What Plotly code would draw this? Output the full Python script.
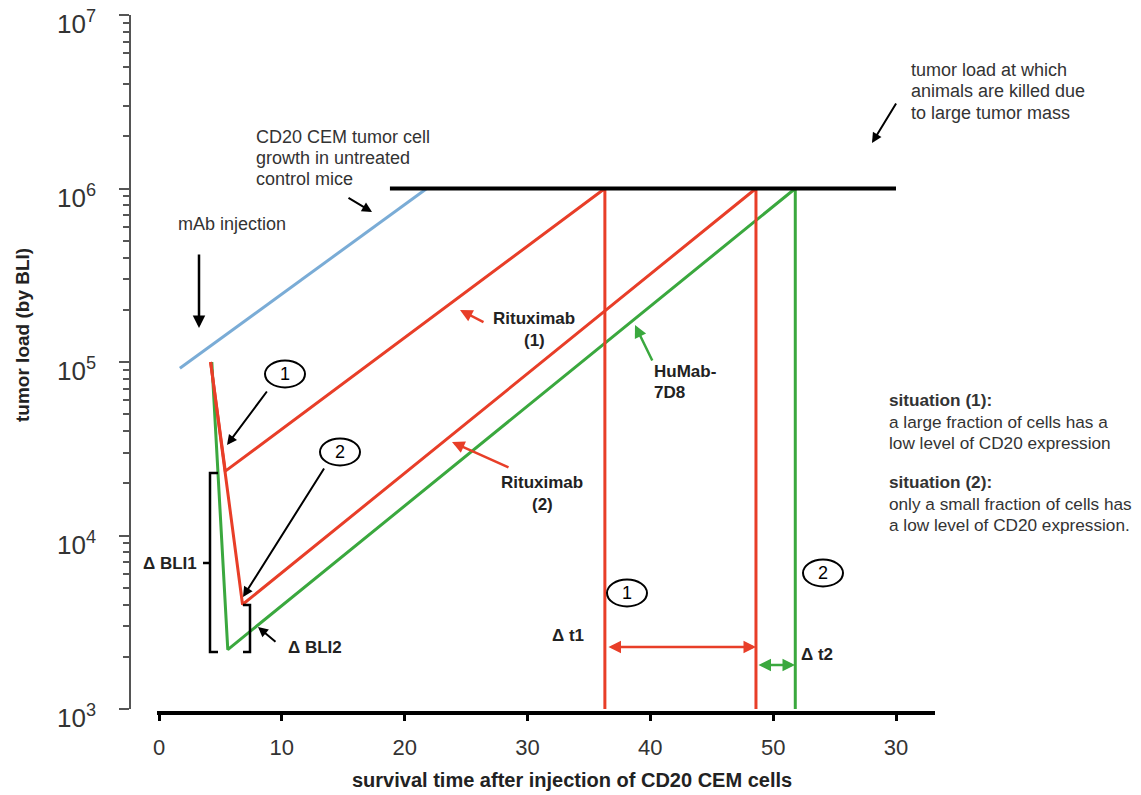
import plotly.graph_objects as go

W, H = 1141, 795

# ---------------- data ----------------
control_days = [1.7, 21.8]
control_load = [9.2e4, 1.0e6]

rituximab1_days = [4.2, 5.4, 36.3, 36.3]
rituximab1_load = [1.0e5, 2.35e4, 1.0e6, 1.0e3]

rituximab2_days = [4.2, 6.8, 48.6, 48.6]
rituximab2_load = [1.0e5, 4.0e3, 1.0e6, 1.0e3]

humab_days = [4.3, 5.6, 51.8, 51.8]
humab_load = [1.0e5, 2.2e3, 1.0e6, 1.0e3]

threshold_days = [18.8, 60.0]
threshold_load = [1.0e6, 1.0e6]

x_tickvals = [0, 10, 20, 30, 40, 50, 60]
x_ticktext = ["0", "10", "20", "30", "40", "50", "30"]
y_tickvals = [1e3, 1e4, 1e5, 1e6, 1e7]
y_ticktext = ["10<sup>3</sup>", "10<sup>4</sup>", "10<sup>5</sup>", "10<sup>6</sup>", "10<sup>7</sup>"]

# ---------------- style ----------------
RED = "rgb(232,62,40)"
GREEN = "rgb(58,168,62)"
BLUE = "rgb(122,172,214)"
TXT = "#333333"
FONT = "Liberation Sans, Arial, sans-serif"


def fx(px):
    return px / W


def fy(py):
    return 1 - py / H


fig = go.Figure()


def line(x, y, color, width):
    fig.add_trace(go.Scatter(x=x, y=y, mode="lines",
                             line=dict(color=color, width=width),
                             hoverinfo="skip", showlegend=False))


line(control_days, control_load, BLUE, 3)
line(humab_days, humab_load, GREEN, 3)
line(rituximab2_days, rituximab2_load, RED, 3)
line(rituximab1_days, rituximab1_load, RED, 3)
line(threshold_days, threshold_load, "black", 4)

annotations = []
shapes = []


def text(px, py, s, size=18, bold=False, xanchor="center", color=TXT, align="center", angle=0):
    annotations.append(dict(
        x=fx(px), y=fy(py), xref="paper", yref="paper",
        text=("<b>%s</b>" % s) if bold else s, showarrow=False,
        xanchor=xanchor, yanchor="middle", align=align, textangle=angle,
        font=dict(family=FONT, size=size, color=color)))


def block(px, py0, step, rows, **kw):
    for i, r in enumerate(rows):
        text(px, py0 + i * step, r, **kw)


def arrow(tx, ty, hx, hy, color="black", width=2, both=False, head=2):
    annotations.append(dict(
        x=fx(hx), y=fy(hy), xref="paper", yref="paper",
        ax=tx - hx, ay=ty - hy, axref="pixel", ayref="pixel",
        text="", showarrow=True, arrowhead=head, arrowsize=1.0,
        arrowwidth=width, arrowcolor=color, standoff=0, startstandoff=0,
        arrowside="end+start" if both else "end", startarrowhead=head))


def ellipse(cx, cy, label, rx=20, ry=13.5):
    shapes.append(dict(type="circle", xref="paper", yref="paper",
                       x0=fx(cx - rx), x1=fx(cx + rx), y0=fy(cy + ry), y1=fy(cy - ry),
                       line=dict(color="black", width=2), fillcolor="white"))
    text(cx, cy, label, size=18, color="black")


def path(points, width=2.5):
    d = "M " + " L ".join("%f,%f" % (fx(a), fy(b)) for a, b in points)
    shapes.append(dict(type="path", xref="paper", yref="paper", path=d,
                       line=dict(color="black", width=width)))


# texts
block(254, 137, 21, ["CD20 CEM tumor cell", "growth in untreated", "control mice"], xanchor="left")
block(909, 70, 21.5, ["tumor load at which", "animals are killed due", "to large tumor mass"], xanchor="left")
text(232, 224, "mAb injection")
block(887, 400, 21.5, ["<b>situation (1):</b>", "a large fraction of cells has a",
                       "low level of CD20 expression"], xanchor="left", size=17.2)
block(887, 482, 21.5, ["<b>situation (2):</b>", "only a small fraction of cells has",
                       "a low level of CD20 expression."], xanchor="left", size=17.2)
block(534, 318, 22, ["Rituximab", "(1)"], bold=True, color="#222", size=17)
block(542, 482, 22, ["Rituximab", "(2)"], bold=True, color="#222", size=17)
block(652, 371, 21, ["HuMab-", "7D8"], bold=True, xanchor="left", color="#222", size=17)
text(170, 563, "Δ BLI1", bold=True, color="#222", size=17)
text(315, 647, "Δ BLI2", bold=True, color="#222", size=17)
text(568, 635, "Δ t1", bold=True, color="#222", size=17)
text(817, 654, "Δ t2", bold=True, color="#222", size=17)
text(22, 335, "tumor load (by BLI)", bold=True, angle=-90, color="#222", size=19)
text(572, 780, "survival time after injection of CD20 CEM cells", bold=True, color="#222", size=20)

# arrows
arrow(199, 253, 199, 328, width=2.5)
arrow(347, 197, 372, 212)
arrow(897, 102, 872, 143)
arrow(268, 390, 227, 445)
arrow(325, 467, 243, 597)
arrow(485, 323, 460, 310, color=RED, width=2.5)
arrow(653, 362, 635, 325, color=GREEN, width=2.5)
arrow(510, 468, 452, 442, color=RED, width=2.5)
arrow(277, 643, 258, 627)
arrow(607, 647, 756, 647, color=RED, width=2.5, both=True)
arrow(757, 665, 795, 665, color=GREEN, width=2.5, both=True)

# circles
ellipse(285, 374, "1")
ellipse(340, 452, "2")
ellipse(627, 593, "1")
ellipse(823, 573, "2")

# brackets
path([(218, 473), (210, 473), (210, 652), (218, 652)])
path([(203, 563), (210, 563)])
path([(243, 605), (250, 605), (250, 652), (243, 652)])

x0_px, x60_px = 159.0, 896.0
scale = (x60_px - x0_px) / 60.0

fig.update_layout(
    width=W, height=H,
    margin=dict(l=0, r=0, t=0, b=0),
    paper_bgcolor="white", plot_bgcolor="white",
    showlegend=False,
    annotations=annotations, shapes=shapes,
    xaxis=dict(
        domain=[fx(157), fx(935)],
        range=[(157 - x0_px) / scale, (935 - x0_px) / scale],
        anchor="free", position=fy(713),
        showline=True, linecolor="black", linewidth=4,
        showgrid=False, zeroline=False,
        tickmode="array", tickvals=x_tickvals, ticktext=x_ticktext,
        ticks="outside", ticklen=6, tickwidth=3, tickcolor="black",
        tickfont=dict(family=FONT, size=22, color=TXT),
        ticklabelstandoff=8, automargin=False,
    ),
    yaxis=dict(
        type="log", range=[3, 7],
        domain=[fy(709), fy(15)],
        anchor="free", position=fx(130),
        showline=True, linecolor="#555", linewidth=1.5,
        showgrid=False, zeroline=False,
        tickmode="array", tickvals=y_tickvals, ticktext=y_ticktext,
        ticks="outside", ticklen=10, tickwidth=2, tickcolor="#555",
        tickfont=dict(family=FONT, size=26, color=TXT),
        ticklabelstandoff=18, ticklabelshift=9, ticklabeloverflow="allow",
        automargin=False,
        minor=dict(ticks="outside", ticklen=6, tickwidth=1.5, tickcolor="#555",
                   dtick="D1", showgrid=False),
    ),
)

fig.write_html("out.html", config={"displayModeBar": False},
               post_script="document.body.style.margin='0';document.body.style.overflow='hidden';")
